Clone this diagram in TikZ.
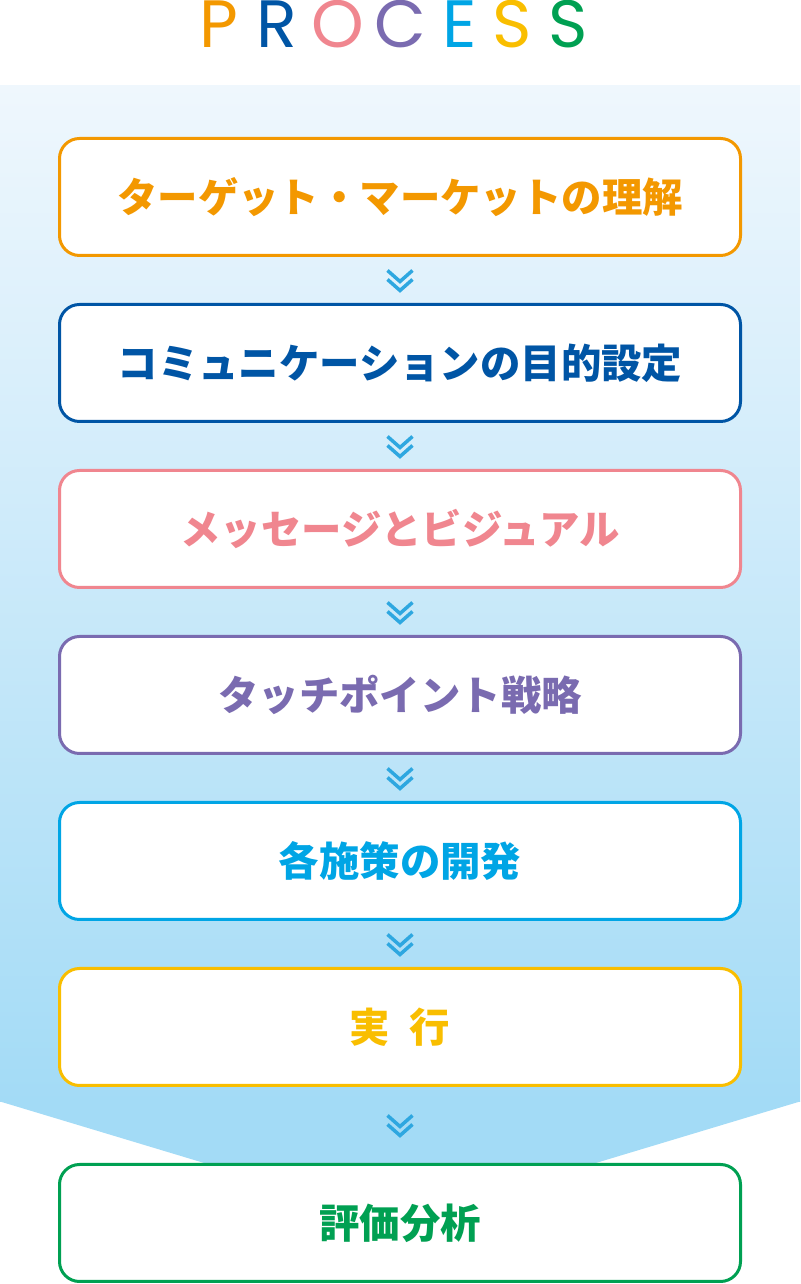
\documentclass[tikz,border=0pt]{standalone}
\usepackage{fontspec}
\newfontfamily\jpfont{Noto Sans CJK JP}
\newfontfamily\titlefont{Poppins}
\usetikzlibrary{positioning,calc}

\definecolor{procorange}{HTML}{F39800}
\definecolor{procblue}{HTML}{0055A5}
\definecolor{procpink}{HTML}{F0868F}
\definecolor{procpurple}{HTML}{7A6BB0}
\definecolor{proccyan}{HTML}{00A5E5}
\definecolor{procyellow}{HTML}{F9BE00}
\definecolor{procgreen}{HTML}{00A052}
\definecolor{bgtop}{HTML}{EFF7FD}
\definecolor{bgbottom}{HTML}{A3DBF6}
\definecolor{chevblue}{HTML}{2EA7E0}

\begin{document}
\begin{tikzpicture}[x=1pt, y=1pt, node distance=46pt,
        stepbox/.style={draw=#1, line width=3pt, rounded corners=20pt, fill=white,
            minimum width=681pt, minimum height=117pt, text=#1,
            font=\jpfont\bfseries\fontsize{40.4}{40.4}\selectfont},
        letter/.style={anchor=base, inner sep=0pt, font=\titlefont\fontsize{67}{67}\selectfont},
        chev/.style={draw=chevblue, line width=3.5pt}
    ]
        \useasboundingbox (0,0) rectangle (800,1284);

        % background band
        \shade [top color=bgtop, bottom color=bgbottom] (0,182) rectangle (800,1198);
        \fill [bgbottom] (0,182.5) -- (800,182.5) -- (400,62) -- cycle;

        % title
        \foreach \ch/\col/\x in {P/procorange/219, R/procblue/277, O/procpink/338,
                C/procpurple/400, E/proccyan/460, S/procyellow/512, S/procgreen/568}
            \node [letter, text=\col] at (\x,1236) {\ch};

        \node [stepbox=procorange] (target) at (400,1087) {ターゲット・マーケットの理解};
        \node [stepbox=procblue, below=of target] (goal) {コミュニケーションの目的設定};
        \node [stepbox=procpink, below=of goal] (message) {メッセージとビジュアル};
        \node [stepbox=procpurple, below=of message] (touch) {タッチポイント戦略};
        \node [stepbox=proccyan, below=of touch] (develop) {各施策の開発};
        \node [stepbox=procyellow, below=of develop] (run) {実 \kern10pt 行};
        \node [stepbox=procgreen, below=76pt of run] (review) {評価分析};

        % chevrons
        \foreach \a/\b in {target/goal, goal/message, message/touch, touch/develop,
                develop/run, run/review}
            \draw [chev] ($(\a.south)!0.5!(\b.north)$) ++(-12.5,9.5) -- ++(12.5,-11) -- ++(12.5,11)
                ++(-25,-9) -- ++(12.5,-11) -- ++(12.5,11);

    \end{tikzpicture}
\end{document}
